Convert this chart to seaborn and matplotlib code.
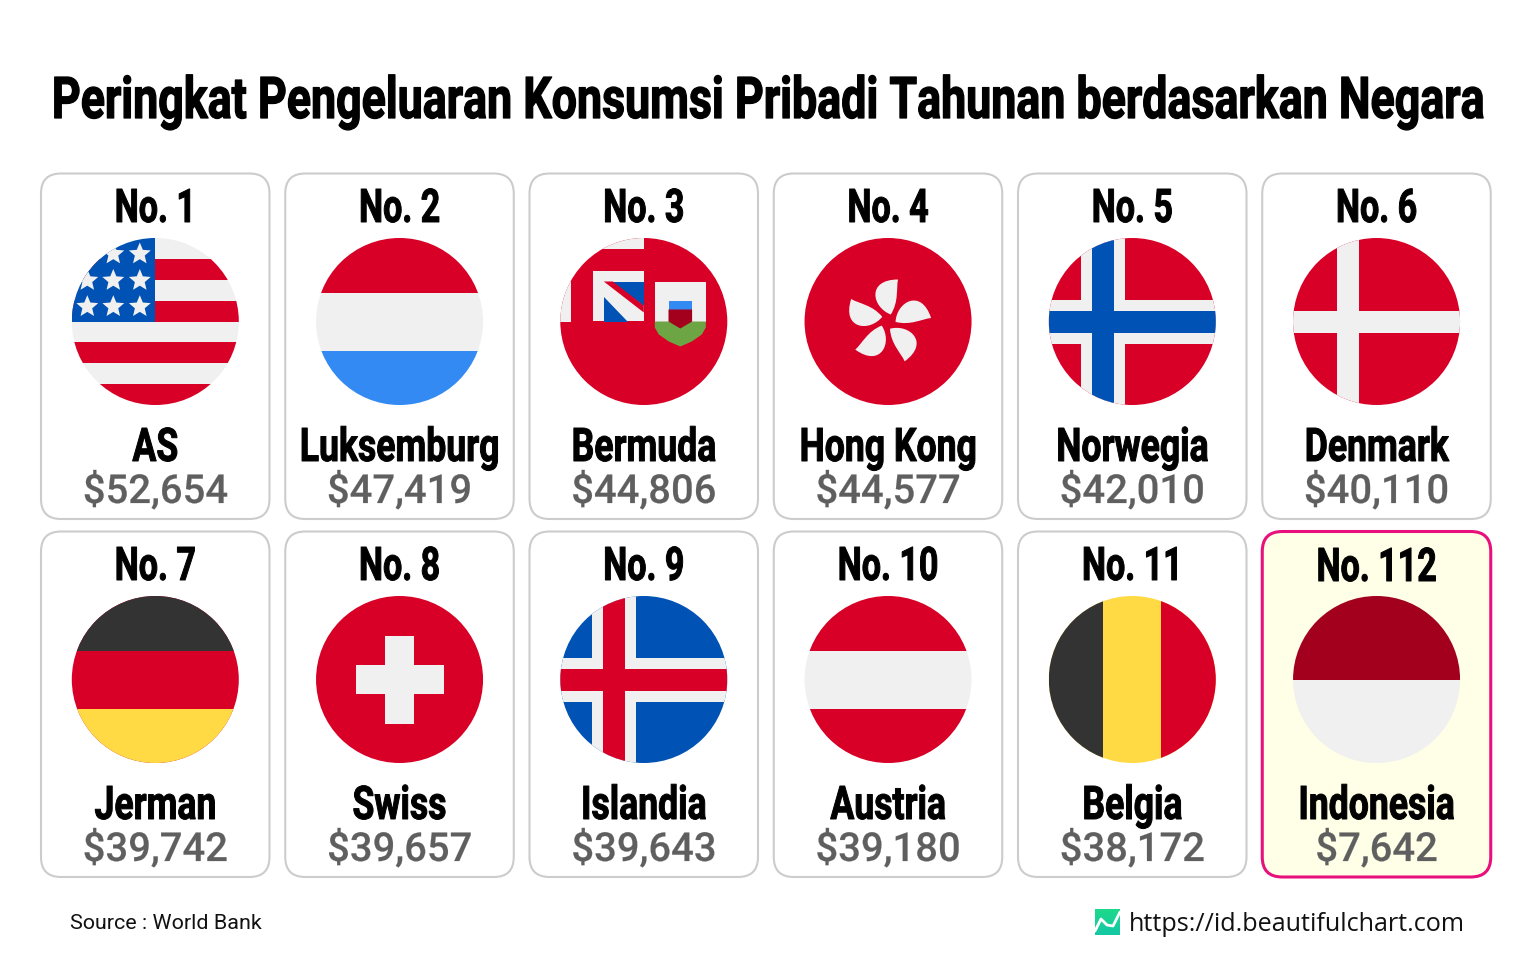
import matplotlib
matplotlib.use('Agg')
import matplotlib.pyplot as plt
import matplotlib.patheffects as pe
from matplotlib.patches import Circle, FancyBboxPatch, PathPatch, Polygon, Rectangle
from matplotlib.path import Path
from matplotlib.transforms import Affine2D
import numpy as np
import pandas as pd
import seaborn as sns

ranks = ['No. 1', 'No. 2', 'No. 3', 'No. 4', 'No. 5', 'No. 6',
         'No. 7', 'No. 8', 'No. 9', 'No. 10', 'No. 11', 'No. 112']
countries = ['AS', 'Luksemburg', 'Bermuda', 'Hong Kong', 'Norwegia', 'Denmark',
             'Jerman', 'Swiss', 'Islandia', 'Austria', 'Belgia', 'Indonesia']
spending = [52654, 47419, 44806, 44577, 42010, 40110,
            39742, 39657, 39643, 39180, 38172, 7642]

RED = '#d80027'
WHITE = '#f0f0f0'
BLUE = '#0052b4'
SKY = '#338af3'
YELLOW = '#ffda44'
DARK = '#333333'
MAROON = '#a2001d'
GREEN = '#6da544'
base_colors = [WHITE, WHITE, RED, RED, RED, RED, RED, RED, BLUE, WHITE, YELLOW, WHITE]

R = 83.5
HEIGHT = 960


class TallText(pe.AbstractPathEffect):
    # stretches the glyphs upward from the baseline, no condensed font is installed
    def __init__(self, base_y, sy, stroke=0.7):
        super().__init__()
        self.base_y, self.sy, self.stroke = base_y, sy, stroke

    def draw_path(self, renderer, gc, tpath, affine, rgbFace=None):
        gc0 = renderer.new_gc()
        gc0.copy_properties(gc)
        gc0.set_linewidth(self.stroke)
        gc0.set_foreground(rgbFace)
        gc0.set_joinstyle('round')
        stretch = Affine2D().translate(0, -self.base_y).scale(1, self.sy).translate(0, self.base_y)
        renderer.draw_path(gc0, tpath, affine + stretch, rgbFace)
        gc0.restore()


def tall_text(ax, x, y, s, size, cap_px, stroke=0.7):
    t = ax.text(x, y, s, ha='center', va='baseline', fontsize=size, color='black',
                family='Roboto', fontweight='bold', zorder=6)
    sy = cap_px / (0.711 * size * 100 / 72)
    t.set_path_effects([TallText(HEIGHT - y, sy, stroke)])
    return t


def rect(ax, cx, cy, x0, y0, x1, y1, color, clip):
    p = Rectangle((cx + x0, cy + y0), x1 - x0, y1 - y0, fc=color, ec='none', zorder=4)
    ax.add_patch(p)
    p.set_clip_path(clip)


def poly(ax, cx, cy, pts, color, clip):
    p = Polygon(np.array(pts) + [cx, cy], closed=True, fc=color, ec='none', zorder=5)
    ax.add_patch(p)
    p.set_clip_path(clip)


def star(ax, cx, cy, x, y, r, color, clip):
    ang = np.deg2rad(np.arange(10) * 36 - 90)
    rad = np.where(np.arange(10) % 2 == 0, r, r * 0.45)
    poly(ax, cx, cy, np.c_[x + rad * np.cos(ang), y + rad * np.sin(ang)], color, clip)


def flag_us(ax, cx, cy, clip):
    step = R / 4
    for k in [1, 3, 5, 7]:
        rect(ax, cx, cy, -R, -R + k * step, R, -R + (k + 1) * step, RED, clip)
    rect(ax, cx, cy, -R, -R, 0, 0, BLUE, clip)
    for x in [-68, -42, -15.5]:
        for y in [-67.5, -41, -14.8]:
            star(ax, cx, cy, x, y, 11.5, WHITE, clip)


def flag_lux(ax, cx, cy, clip):
    rect(ax, cx, cy, -R, -R, R, -29, RED, clip)
    rect(ax, cx, cy, -R, 29, R, R, SKY, clip)


def flag_bermuda(ax, cx, cy, clip):
    rect(ax, cx, cy, -50, -R, 0, -72.3, WHITE, clip)
    rect(ax, cx, cy, -R, -41, -72.7, 0, WHITE, clip)
    rect(ax, cx, cy, -51, -50.7, 0, 0, WHITE, clip)
    poly(ax, cx, cy, [(-32, -40), (0, -40), (0, -16)], BLUE, clip)
    poly(ax, cx, cy, [(-40, -25), (-40, 0), (-16, 0)], BLUE, clip)
    poly(ax, cx, cy, [(-40, -40), (-31, -40), (0, -16), (0, -9)], RED, clip)
    # shield
    poly(ax, cx, cy, [(11, -40), (62, -40), (62, 0), (11, 0)], WHITE, clip)
    poly(ax, cx, cy, [(11, 0), (62, 0), (62, 6), (58, 13), (48, 20), (36.5, 25),
                      (25, 20), (15, 13), (11, 6)], GREEN, clip)
    poly(ax, cx, cy, [(24.7, -21), (48.3, -21), (48.3, -12), (24.7, -12)], SKY, clip)
    poly(ax, cx, cy, [(24.7, -12), (48.3, -12), (48.3, 0), (36.5, 7), (24.7, 0)], MAROON, clip)


def flag_hk(ax, cx, cy, clip):
    verts = [(2.7, -7), (-16, -14), (-22, -42), (10, -42), (8, -33), (11, -20), (2.7, -7)]
    codes = [Path.MOVETO, Path.CURVE4, Path.CURVE4, Path.CURVE4, Path.CURVE4, Path.CURVE4, Path.CURVE4]
    petal = Path(verts, codes)
    for k in range(5):
        tr = Affine2D().rotate_deg(72 * k).translate(cx, cy)
        ax.add_patch(PathPatch(petal.transformed(tr), fc=WHITE, ec='none', zorder=5))


def flag_norway(ax, cx, cy, clip):
    rect(ax, cx, cy, -51.5, -R, -7.5, R, WHITE, clip)
    rect(ax, cx, cy, -R, -22, R, 22, WHITE, clip)
    rect(ax, cx, cy, -40.5, -R, -18.5, R, BLUE, clip)
    rect(ax, cx, cy, -R, -11, R, 11, BLUE, clip)


def flag_denmark(ax, cx, cy, clip):
    rect(ax, cx, cy, -40, -R, -18, R, WHITE, clip)
    rect(ax, cx, cy, -R, -11, R, 11, WHITE, clip)


def flag_germany(ax, cx, cy, clip):
    rect(ax, cx, cy, -R, -R, R, -29, DARK, clip)
    rect(ax, cx, cy, -R, 29, R, R, YELLOW, clip)


def flag_swiss(ax, cx, cy, clip):
    rect(ax, cx, cy, -44, -14.5, 44, 14.5, WHITE, clip)
    rect(ax, cx, cy, -14.5, -44, 14.5, 44, WHITE, clip)


def flag_iceland(ax, cx, cy, clip):
    rect(ax, cx, cy, -51.5, -R, -7.5, R, WHITE, clip)
    rect(ax, cx, cy, -R, -22, R, 22, WHITE, clip)
    rect(ax, cx, cy, -40.5, -R, -18.5, R, RED, clip)
    rect(ax, cx, cy, -R, -11, R, 11, RED, clip)


def flag_austria(ax, cx, cy, clip):
    rect(ax, cx, cy, -R, -R, R, -29, RED, clip)
    rect(ax, cx, cy, -R, 29, R, R, RED, clip)


def flag_belgium(ax, cx, cy, clip):
    rect(ax, cx, cy, -R, -R, -29, R, DARK, clip)
    rect(ax, cx, cy, 29, -R, R, R, RED, clip)


def flag_indonesia(ax, cx, cy, clip):
    rect(ax, cx, cy, -R, -R, R, 0, MAROON, clip)


flags = [flag_us, flag_lux, flag_bermuda, flag_hk, flag_norway, flag_denmark,
         flag_germany, flag_swiss, flag_iceland, flag_austria, flag_belgium, flag_indonesia]

sns.set_theme(style='white')
plt.rcParams['font.family'] = ['Roboto', 'DejaVu Sans']

df = pd.DataFrame({'rank': ranks, 'country': countries, 'spending': spending})
df['col'] = df.index % 6
df['row'] = df.index // 6
df['cx'] = 155.3 + df['col'] * 244.25
df['cy'] = 321.5 + df['row'] * 358

fig = plt.figure(figsize=(15.36, 9.6), dpi=100)
ax = fig.add_axes([0, 0, 1, 1])

# cards
for _, c in df.iterrows():
    hot = c['country'] == 'Indonesia'
    ax.add_patch(FancyBboxPatch((c['cx'] - 114.3 + 20, c['cy'] - 148 + 20), 228.5 - 40, 345.5 - 40,
                                boxstyle='round,pad=20,rounding_size=20',
                                fc='#fffee6' if hot else 'white',
                                ec='#e8107c' if hot else '#cccccc',
                                lw=2.2 if hot else 1.5, zorder=1))

# flag discs
sns.scatterplot(data=df, x='cx', y='cy', hue='country', palette=dict(zip(countries, base_colors)),
                s=(2 * R * 0.72) ** 2, linewidth=0, legend=False, ax=ax, zorder=3)

for i, c in df.iterrows():
    clip = Circle((c['cx'], c['cy']), R, transform=ax.transData)
    flags[i](ax, c['cx'], c['cy'], clip)
    shift = 1 if c['country'] == 'Indonesia' else 0
    tall_text(ax, c['cx'], c['cy'] - 99.5 + shift, c['rank'], 24.5, 33)
    tall_text(ax, c['cx'], c['cy'] + 139.5, c['country'], 25.6, 33)
    val = ax.text(c['cx'], c['cy'] + 181.5, f"${c['spending']:,}", ha='center', va='baseline',
                  fontsize=28.8, color='#5f5f5f', family='Roboto', fontweight='medium', zorder=6)
    val.set_path_effects([TallText(HEIGHT - (c['cy'] + 181.5), 1.0, 0.15)])

title_text = 'Peringkat Pengeluaran Konsumsi Pribadi Tahunan berdasarkan Negara'
probe = ax.text(768, 118, title_text, fontsize=30, family='Roboto', fontweight='bold')
fig.canvas.draw()
title_size = 30 * 1429 / probe.get_window_extent().width
probe.remove()
tall_text(ax, 768, 118, title_text, title_size, 41, 0.9)

# footer
ax.text(70, 929, 'Source : World Bank', fontsize=15.45, color='#111111', family='Roboto', va='baseline')
ax.text(1129, 931, 'https://id.beautifulchart.com', fontsize=18.05, color='#111111',
        family='Open Sans', va='baseline')
grad = np.linspace(0, 1, 32)[:, None]
ax.imshow(grad, extent=(1095, 1120, 935, 909), cmap=sns.blend_palette(['#1ed98a', '#14c8a6'], as_cmap=True),
          aspect='auto', zorder=3)
ax.plot([1095, 1101, 1107, 1113, 1120], [931, 919, 925, 926, 912], color='white', lw=2, zorder=4)

ax.set_xlim(0, 1536)
ax.set_ylim(960, 0)
ax.axis('off')

fig.savefig('out.png', dpi=100, facecolor='white')
